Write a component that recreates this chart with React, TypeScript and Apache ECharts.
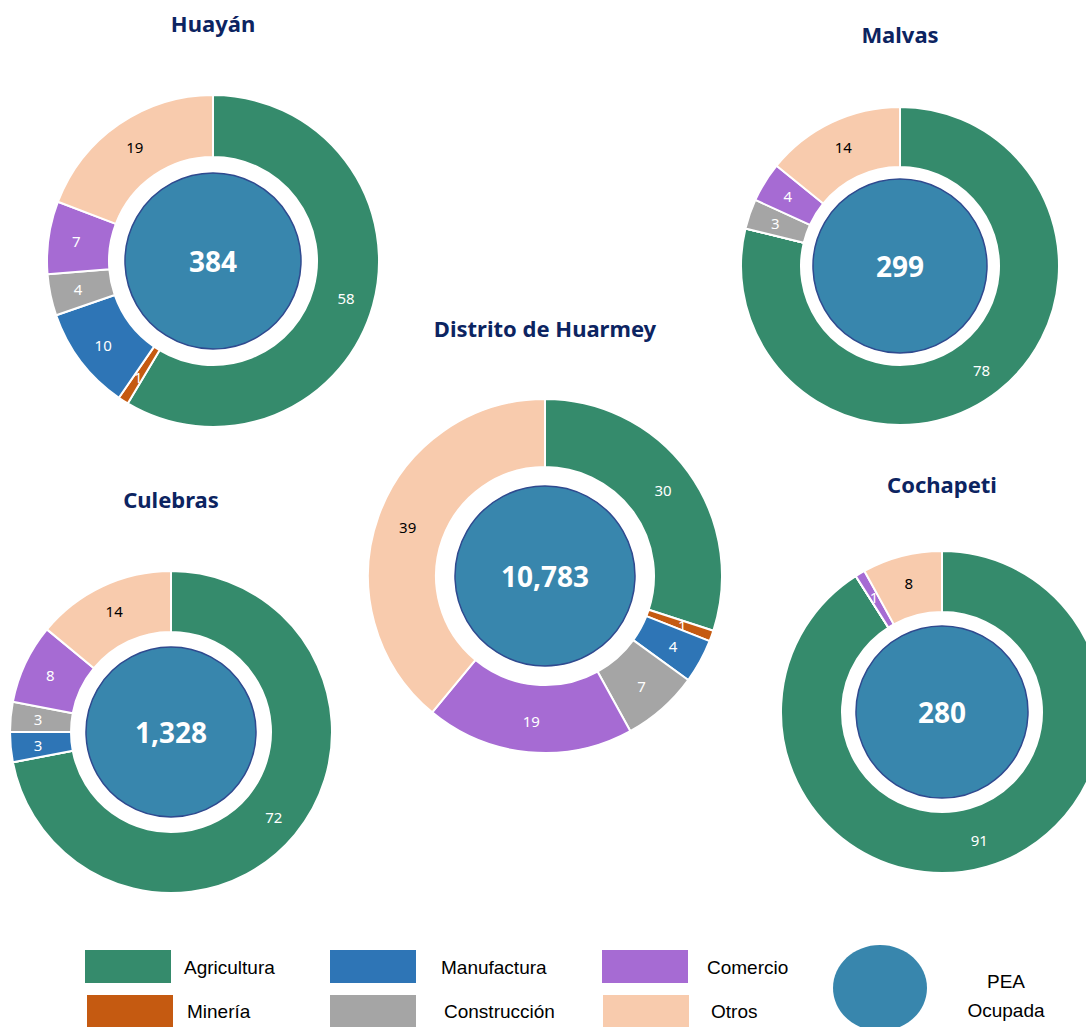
import React, { useEffect, useRef } from "react";
import * as echarts from "echarts";

const categories = ["Agricultura", "Minería", "Manufactura", "Construcción", "Comercio", "Otros"];
const colors = ["#358b6c", "#c55a11", "#2e75b6", "#a5a5a5", "#a66bd3", "#f8cbad"];

const districts = ["Huayán", "Malvas", "Distrito de Huarmey", "Culebras", "Cochapeti"];
const huayanValues = [58, 1, 10, 4, 7, 19];
const malvasValues = [78, 0, 0, 3, 4, 14];
const huarmeyValues = [30, 1, 4, 7, 19, 39];
const culebrasValues = [72, 0, 3, 3, 8, 14];
const cochapetiValues = [91, 0, 0, 0, 1, 8];
const peaOcupada = [384, 299, 10783, 1328, 280];

const valueSets = [huayanValues, malvasValues, huarmeyValues, culebrasValues, cochapetiValues];

// layout (pixels)
const layouts = [
  { cx: 213, cy: 261, r0: 104, r1: 166, rc: 88, ty: 12 },
  { cx: 900, cy: 266, r0: 99, r1: 159, rc: 87, ty: 23 },
  { cx: 545, cy: 576, r0: 109, r1: 177, rc: 90, ty: 317 },
  { cx: 171, cy: 732, r0: 100, r1: 161, rc: 85, ty: 488 },
  { cx: 942, cy: 712, r0: 100, r1: 161, rc: 86, ty: 473 },
];

const navy = "#0c2461";
const peaColor = "#3886ad";

export default function App() {
  const ref = useRef<HTMLDivElement>(null);
  useEffect(() => {
    if (!ref.current) return;
    const chart = echarts.init(ref.current, null, { renderer: "svg" });
    const series: any[] = [];
    districts.forEach((d, i) => {
      const L = layouts[i];
      series.push({
        type: "pie",
        name: d,
        center: [L.cx, L.cy],
        radius: [L.r0, L.r1],
        startAngle: 90,
        clockwise: true,
        avoidLabelOverlap: false,
        minShowLabelAngle: 0,
        itemStyle: { borderColor: "#ffffff", borderWidth: 2 },
        label: {
          show: true,
          position: "inside",
          formatter: "{c}",
          fontFamily: "Noto Sans",
          fontSize: 15,
          color: "#ffffff",
        },
        labelLine: { show: false },
        emphasis: { disabled: true },
        data: valueSets[i].map((v, k) => ({
          name: categories[k],
          value: v,
          itemStyle: { color: colors[k] },
          label: k === 5 ? { color: "#000000" } : undefined,
        })),
      });
      series.push({
        type: "pie",
        name: d + " PEA",
        center: [L.cx, L.cy],
        radius: [0, L.rc],
        silent: true,
        itemStyle: { color: peaColor, borderColor: "#2f4a8f", borderWidth: 1.5 },
        label: {
          show: true,
          position: "center",
          formatter: (p: any) => Number(p.value).toLocaleString("en-US"),
          fontFamily: "Noto Sans",
          fontWeight: "bold",
          fontSize: 28,
          color: "#ffffff",
        },
        labelLine: { show: false },
        emphasis: { disabled: true },
        data: [{ name: "PEA Ocupada", value: peaOcupada[i] }],
      });
    });

    const graphic: any[] = [];
    districts.forEach((d, i) => {
      graphic.push({
        type: "text",
        x: layouts[i].cx,
        y: layouts[i].ty,
        style: {
          text: d,
          fill: navy,
          font: "bold 22px 'Noto Sans'",
          textAlign: "center",
          textVerticalAlign: "top",
        },
      });
    });

    const legendItems = [
      { k: 0, bx: 85, by: 950, tx: 184, ty: 967 },
      { k: 2, bx: 330, by: 950, tx: 441, ty: 967 },
      { k: 4, bx: 602, by: 950, tx: 707, ty: 967 },
      { k: 1, bx: 87, by: 995, tx: 187, ty: 1011 },
      { k: 3, bx: 330, by: 995, tx: 444, ty: 1011 },
      { k: 5, bx: 603, by: 995, tx: 711, ty: 1011 },
    ];
    legendItems.forEach((it) => {
      graphic.push({
        type: "rect",
        shape: { x: it.bx, y: it.by, width: 86, height: 33 },
        style: { fill: colors[it.k] },
      });
      graphic.push({
        type: "text",
        x: it.tx,
        y: it.ty,
        style: {
          text: categories[it.k],
          fill: "#000000",
          font: "19px 'Liberation Sans Narrow', 'Liberation Sans'",
          textAlign: "left",
          textVerticalAlign: "middle",
        },
      });
    });
    graphic.push({
      type: "ellipse",
      shape: { cx: 880, cy: 988, rx: 47, ry: 43 },
      style: { fill: peaColor },
    });
    graphic.push({
      type: "text",
      x: 1006,
      y: 981,
      style: { text: "PEA", fill: "#000", font: "19px 'Liberation Sans Narrow', 'Liberation Sans'", textAlign: "center", textVerticalAlign: "middle" },
    });
    graphic.push({
      type: "text",
      x: 1006,
      y: 1010,
      style: { text: "Ocupada", fill: "#000", font: "19px 'Liberation Sans Narrow', 'Liberation Sans'", textAlign: "center", textVerticalAlign: "middle" },
    });

    chart.setOption({
      animation: false,
      backgroundColor: "#ffffff",
      series,
      graphic,
    });
    return () => chart.dispose();
  }, []);
  return (
    <div
      ref={ref}
      style={{ position: "absolute", left: 0, top: 0, width: 1086, height: 1027 }}
    />
  );
}
